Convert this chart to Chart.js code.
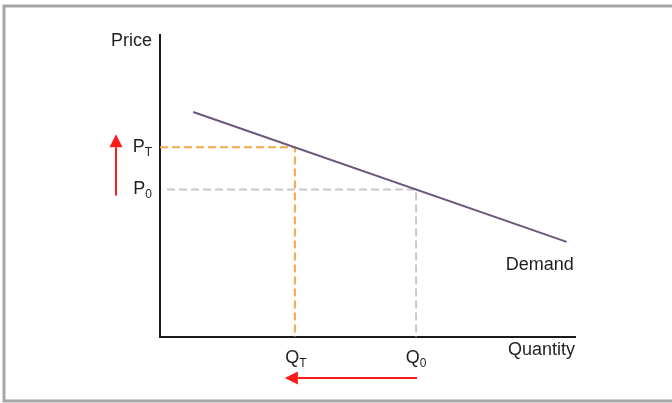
<!DOCTYPE html>
<html>
<head>
<meta charset="utf-8">
<script src="https://cdn.jsdelivr.net/npm/chart.js@4.4.1/dist/chart.umd.min.js"></script>
<style>
  body { margin: 0; background: #fff; }
  #wrap { width: 672px; height: 403px; position: relative; }
</style>
</head>
<body>
<div id="wrap"><canvas id="chart" width="672" height="403"></canvas></div>
<script>
// demand curve end points (quantity, price)
const demandQ = [8, 98];
const demandP = [74.5, 31.5];
// equilibrium before and after
const P0 = 48.8, PT = 62.8;
const Q0 = 61.7, QT = 32.5;

const textColor = '#1f1f1f';
const font = '"Liberation Sans", Arial, sans-serif';

// draw "P" with a subscript, anchored by align
function drawSub(ctx, main, sub, x, y, align) {
    ctx.font = '18px ' + font;
    const w1 = ctx.measureText(main).width;
    ctx.font = '12px ' + font;
    const w2 = ctx.measureText(sub).width;
    const total = w1 + w2;
    let left = x;
    if (align === 'right') left = x - total;
    if (align === 'center') left = x - total / 2;
    ctx.textAlign = 'left';
    ctx.textBaseline = 'alphabetic';
    ctx.font = '18px ' + font;
    ctx.fillText(main, left, y + 6);
    ctx.font = '12px ' + font;
    ctx.fillText(sub, left + w1, y + 10);
}

function arrow(ctx, x1, y1, x2, y2) {
    const ang = Math.atan2(y2 - y1, x2 - x1);
    const head = 13, half = 6.5;
    const bx = x2 - head * Math.cos(ang), by = y2 - head * Math.sin(ang);
    ctx.strokeStyle = '#ff1a1a';
    ctx.fillStyle = '#ff1a1a';
    ctx.lineWidth = 2;
    ctx.beginPath();
    ctx.moveTo(x1, y1);
    ctx.lineTo(bx, by);
    ctx.stroke();
    ctx.beginPath();
    ctx.moveTo(x2, y2);
    ctx.lineTo(bx + half * Math.sin(ang), by - half * Math.cos(ang));
    ctx.lineTo(bx - half * Math.sin(ang), by + half * Math.cos(ang));
    ctx.closePath();
    ctx.fill();
}

const frame = {
    id: 'frame',
    beforeDraw(chart) {
        const ctx = chart.ctx;
        ctx.save();
        ctx.strokeStyle = '#a6a6a6';
        ctx.lineWidth = 3;
        ctx.beginPath();
        ctx.moveTo(672, 6); ctx.lineTo(4, 6); ctx.lineTo(4, 401); ctx.lineTo(672, 401);
        ctx.stroke();
        ctx.restore();
    }
};

const labels = {
    id: 'labels',
    afterDraw(chart) {
        const ctx = chart.ctx;
        const xs = chart.scales.x, ys = chart.scales.y;
        const area = chart.chartArea;
        ctx.save();
        ctx.fillStyle = textColor;
        ctx.font = '18px ' + font;
        ctx.textBaseline = 'middle';
        ctx.textAlign = 'right';
        ctx.fillText('Price', area.left - 8, area.top + 6);
        ctx.fillText('Quantity', area.right, area.bottom + 13);
        ctx.fillText('Demand', xs.getPixelForValue(demandQ[1]) + 7, ys.getPixelForValue(demandP[1]) + 23);

        drawSub(ctx, 'P', 'T', area.left - 8, ys.getPixelForValue(PT) - 1, 'right');
        drawSub(ctx, 'P', '0', area.left - 8, ys.getPixelForValue(P0) - 2, 'right');
        drawSub(ctx, 'Q', 'T', xs.getPixelForValue(QT) + 1, area.bottom + 20, 'center');
        drawSub(ctx, 'Q', '0', xs.getPixelForValue(Q0), area.bottom + 20, 'center');

        arrow(ctx, area.left - 44, ys.getPixelForValue(P0) + 6, area.left - 44, ys.getPixelForValue(PT) - 13);
        arrow(ctx, xs.getPixelForValue(Q0) + 1, area.bottom + 41, xs.getPixelForValue(QT) - 10, area.bottom + 41);
        ctx.restore();
    }
};

new Chart(document.getElementById('chart'), {
    type: 'scatter',
    data: {
        datasets: [
            {
                data: [{x: demandQ[0], y: demandP[0]}, {x: demandQ[1], y: demandP[1]}],
                showLine: true, borderColor: '#6b5778', borderWidth: 2, pointRadius: 0
            },
            {
                data: [{x: 0, y: PT}, {x: QT, y: PT}, {x: QT, y: 0}],
                showLine: true, borderColor: '#f5a847', borderWidth: 2, borderDash: [8, 4], pointRadius: 0
            },
            {
                data: [{x: 1.7, y: P0}, {x: Q0, y: P0}, {x: Q0, y: 0}],
                showLine: true, borderColor: '#c9c9c9', borderWidth: 2, borderDash: [8, 4], pointRadius: 0
            }
        ]
    },
    options: {
        responsive: false,
        animation: false,
        clip: false,
        layout: { padding: { left: 152, right: 97, top: 35, bottom: 58 } },
        plugins: { legend: { display: false }, tooltip: { enabled: false } },
        scales: {
            x: {
                type: 'linear', min: 0, max: 100,
                ticks: { display: false },
                grid: { display: false },
                border: { color: '#1a1a1a', width: 2 }
            },
            y: {
                type: 'linear', min: 0, max: 100,
                ticks: { display: false },
                grid: { display: false },
                border: { color: '#1a1a1a', width: 2 }
            }
        }
    },
    plugins: [frame, labels]
});
</script>
</body>
</html>
